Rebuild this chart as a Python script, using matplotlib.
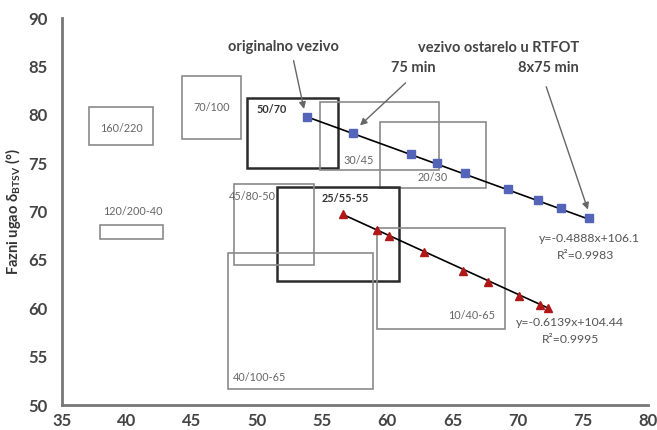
import matplotlib
matplotlib.use("Agg")
import matplotlib.pyplot as plt
from matplotlib.patches import Rectangle

plt.rcParams['font.family'] = ['Lato', 'DejaVu Sans']

# Data
blue_x = [53.8, 57.4, 61.8, 63.8, 66.0, 69.3, 71.6, 73.3, 75.5]
blue_y = [79.8, 78.1, 75.9, 75.0, 74.0, 72.3, 71.2, 70.4, 69.3]
red_x = [56.6, 59.2, 60.1, 62.8, 65.8, 67.7, 70.1, 71.7, 72.3]
red_y = [69.7, 68.1, 67.5, 65.8, 63.9, 62.7, 61.3, 60.3, 60.0]
blue_fit = (-0.4888, 106.1)
red_fit = (-0.6139, 104.44)

# grade boxes: label, x0, x1, y0, y1
box_labels = ['160/220', '70/100', '50/70', '30/45', '20/30', '25/55-55',
              '45/80-50', '40/100-65', '10/40-65', '120/200-40']
box_x0 = [37.1, 44.2, 49.2, 54.8, 59.4, 51.5, 48.2, 47.8, 59.2, 37.9]
box_x1 = [42.0, 48.8, 56.2, 64.0, 67.6, 60.9, 54.4, 58.9, 69.0, 42.8]
box_y0 = [76.9, 77.5, 74.5, 74.3, 72.4, 62.8, 64.5, 51.7, 57.9, 67.2]
box_y1 = [80.8, 84.0, 81.7, 81.3, 79.3, 72.5, 72.8, 65.7, 68.3, 68.6]
box_bold = [False, False, True, False, False, True, False, False, False, False]
# label anchor positions (data coords)
lab_x = [39.6, 46.5, 51.1, 57.8, 63.5, 56.8, 49.6, 50.2, 66.5, 40.5]
lab_y = [78.6, 80.8, 80.5, 75.3, 73.5, 71.4, 71.6, 52.8, 59.3, 70.0]

fig = plt.figure(figsize=(6.57, 4.30), dpi=100)
ax = fig.add_axes([0.094, 0.058, 0.892, 0.900])
ax.set_xlim(35, 80)
ax.set_ylim(50, 90)

for lab, x0, x1, y0, y1, b, lx, ly in zip(box_labels, box_x0, box_x1, box_y0, box_y1,
                                          box_bold, lab_x, lab_y):
    ax.add_patch(Rectangle((x0, y0), x1 - x0, y1 - y0, fill=False,
                           edgecolor='#2b2b2b' if b else '#8a8a8a',
                           linewidth=1.8 if b else 1.2, zorder=2))
    ax.text(lx, ly, lab, fontsize=7.8, color='#333333' if b else '#666666',
            fontweight='bold' if b else 'normal', ha='center', va='center', zorder=3)

# fit lines
bx = [min(blue_x), max(blue_x)]
ax.plot(bx, [blue_fit[0] * v + blue_fit[1] for v in bx], color='black', lw=1.2, zorder=4)
rx = [min(red_x), max(red_x)]
ax.plot(rx, [red_fit[0] * v + red_fit[1] for v in rx], color='black', lw=1.2, zorder=4)

ax.plot(blue_x, blue_y, 's', color='#5464b8', markersize=6, zorder=5)
ax.plot(red_x, red_y, '^', color='#b01818', markersize=6, zorder=5)

# annotations
tk = dict(fontsize=10.5, fontweight='bold', color='#444444', va='center')
ax.text(52.0, 87.0, 'originalno vezivo', ha='center', **tk)
ax.text(74.7, 86.9, 'vezivo ostarelo u RTFOT', ha='right', **tk)
ax.text(62.0, 84.8, '75 min', ha='center', **tk)
ax.text(74.7, 84.8, '8x75 min', ha='right', **tk)
ap = dict(arrowstyle='-|>', color='#666666', lw=1.0, mutation_scale=10, shrinkA=0, shrinkB=0)
ax.annotate('', xy=(53.6, 80.6), xytext=(52.8, 85.6), arrowprops=ap)
ax.annotate('', xy=(57.9, 78.9), xytext=(61.4, 83.3), arrowprops=ap)
ax.annotate('', xy=(75.4, 70.2), xytext=(72.2, 82.9), arrowprops=ap)

ek = dict(fontsize=8.8, color='#555555', ha='center', va='center')
ax.text(75.5, 67.2, 'y=-0.4888x+106.1', **ek)
ax.text(75.2, 65.5, 'R²=0.9983', **ek)
ax.text(74.0, 58.5, 'y=-0.6139x+104.44', **ek)
ax.text(74.1, 56.8, 'R²=0.9995', **ek)

for s in ['top', 'right']:
    ax.spines[s].set_visible(False)
for s in ['left', 'bottom']:
    ax.spines[s].set_color('#777777')
    ax.spines[s].set_linewidth(2)
ax.set_xticks(range(35, 81, 5))
ax.set_yticks(range(50, 91, 5))
ax.tick_params(length=0, labelsize=12, labelcolor='#444444')
ax.tick_params(axis='y', pad=10)
ax.tick_params(axis='x', pad=6)
for t in ax.get_xticklabels() + ax.get_yticklabels():
    t.set_fontweight('bold')
ax.set_ylabel('Fazni ugao δ$_{\\mathregular{BTSV}}$ (°)', fontsize=10.5,
              fontweight='bold', color='#333333', labelpad=4)

fig.savefig('out.png', dpi=100)
